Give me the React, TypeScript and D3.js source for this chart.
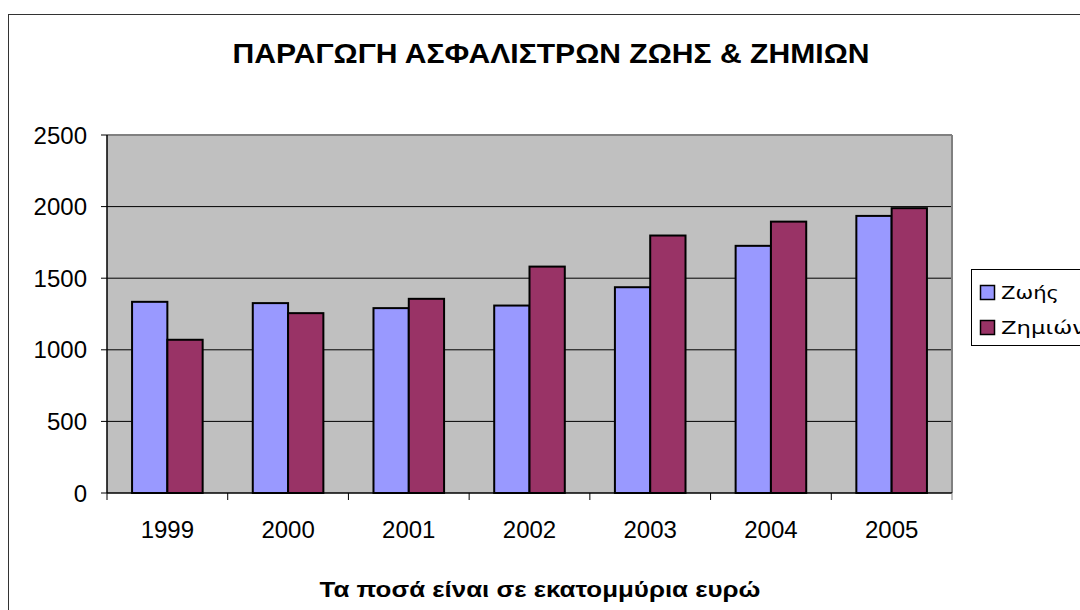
import * as d3 from 'd3';

const years = ['1999', '2000', '2001', '2002', '2003', '2004', '2005'];
const zois = [1335, 1326, 1291, 1309, 1437, 1726, 1935];
const zimion = [1070, 1256, 1356, 1581, 1798, 1895, 1989];
const yTicks = [0, 500, 1000, 1500, 2000, 2500];
const seriesNames = ['Ζωής', 'Ζημιών'];
const colors = ['#9999ff', '#993366'];

const font = 'Arial, "Liberation Sans", sans-serif';
const legendFont = '"DejaVu Sans", Verdana, sans-serif';

const App = () => {
  const left = 107;
  const right = 952;
  const top = 135;
  const bottom = 493;

  const x = d3.scaleBand().domain(years).range([left, right]);
  const y = d3.scaleLinear().domain([0, 2500]).range([bottom, top]);
  const inner = d3
    .scaleBand()
    .domain(seriesNames)
    .range([0, x.bandwidth()])
    .paddingOuter(0.71);

  const series = [zois, zimion];
  const legendWidths = [58, 84];

  return (
    <svg
      width={1080}
      height={610}
      style={{ position: 'fixed', left: 0, top: 0, background: '#fff' }}
    >
      <rect x={8.5} y={14.5} width={1100} height={620} fill="#fff" stroke="#333" />
      <text
        x={551}
        y={63}
        textAnchor="middle"
        fontFamily={font}
        fontWeight="bold"
        fontSize={28}
        textLength={637}
        lengthAdjust="spacingAndGlyphs"
      >
        ΠΑΡΑΓΩΓΗ ΑΣΦΑΛΙΣΤΡΩΝ ΖΩΗΣ &amp; ΖΗΜΙΩΝ
      </text>

      {/* plot area */}
      <rect x={left} y={top} width={right - left} height={bottom - top} fill="#c0c0c0" />
      {yTicks.slice(1).map((t) => (
        <line key={t} x1={left} x2={right} y1={y(t)} y2={y(t)} stroke="#000" strokeWidth={1} />
      ))}
      <line x1={left} x2={right} y1={top} y2={top} stroke="#808080" strokeWidth={2} />
      <line x1={right} x2={right} y1={top} y2={bottom} stroke="#808080" strokeWidth={2} />

      {series.map((vals, si) =>
        years.map((yr, i) => (
          <rect
            key={`${si}-${yr}`}
            x={(x(yr) ?? 0) + (inner(seriesNames[si]) ?? 0)}
            y={y(vals[i])}
            width={inner.bandwidth()}
            height={bottom - y(vals[i])}
            fill={colors[si]}
            stroke="#000"
            strokeWidth={2}
          />
        )),
      )}

      {/* axes */}
      <line x1={left} x2={left} y1={top} y2={bottom} stroke="#000" strokeWidth={1.5} />
      <line x1={left} x2={right} y1={bottom} y2={bottom} stroke="#000" strokeWidth={1.5} />
      {yTicks.map((t) => (
        <g key={t}>
          <line x1={left - 6} x2={left} y1={y(t)} y2={y(t)} stroke="#000" />
          <text
            x={87}
            y={y(t) + 8.5}
            textAnchor="end"
            fontFamily={font}
            fontSize={24}
          >
            {t}
          </text>
        </g>
      ))}
      {[...years.map((yr) => x(yr) ?? 0), right].map((px, i) => (
        <line key={i} x1={px} x2={px} y1={bottom} y2={bottom + 7} stroke={i === years.length ? '#808080' : '#000'} />
      ))}
      {years.map((yr) => (
        <text
          key={yr}
          x={(x(yr) ?? 0) + x.bandwidth() / 2}
          y={538}
          textAnchor="middle"
          fontFamily={font}
          fontSize={24}
        >
          {yr}
        </text>
      ))}

      <text
        x={540}
        y={597}
        textAnchor="middle"
        fontFamily={font}
        fontWeight="bold"
        fontSize={22}
        textLength={441}
        lengthAdjust="spacingAndGlyphs"
      >
        Τα ποσά είναι σε εκατομμύρια ευρώ
      </text>

      {/* legend */}
      <rect x={971.5} y={269.5} width={140} height={76} fill="#fff" stroke="#000" />
      {seriesNames.map((name, i) => (
        <g key={name} transform={`translate(980, ${285 + i * 35})`}>
          <rect x={0.5} y={0.5} width={14} height={14} fill={colors[i]} stroke="#000" strokeWidth={1.5} />
          <text
            x={21}
            y={13.5}
            fontFamily={legendFont}
            fontSize={18}
            textLength={legendWidths[i]}
            lengthAdjust="spacingAndGlyphs"
          >
            {name}
          </text>
        </g>
      ))}
    </svg>
  );
};

export default App;
